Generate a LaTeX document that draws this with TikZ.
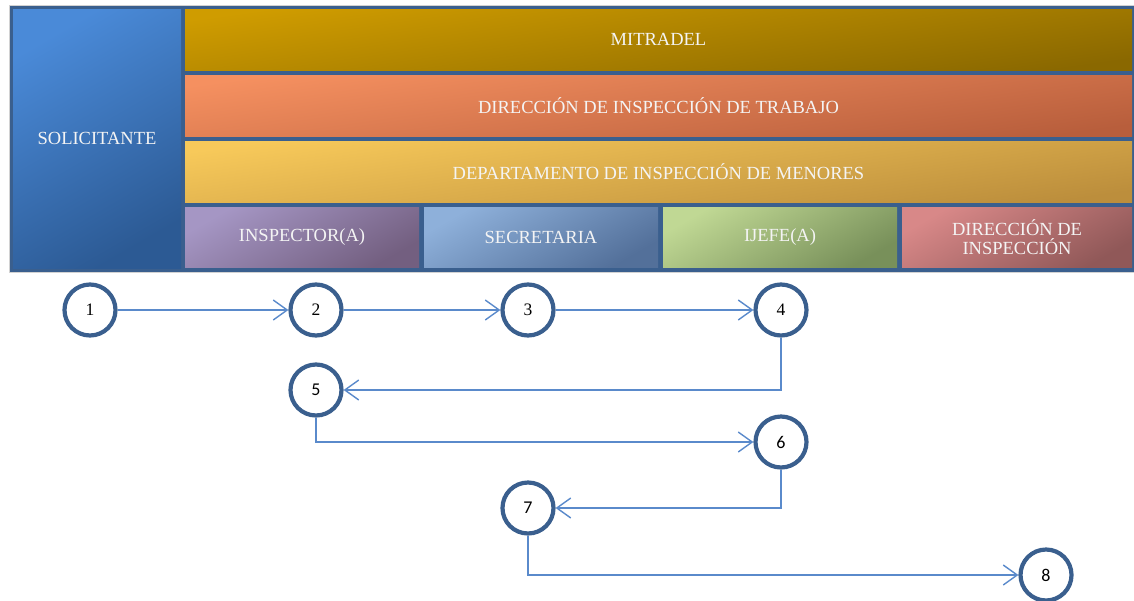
\documentclass[tikz,border=0pt]{standalone}
\usepackage{fontspec}
\setmainfont{Liberation Serif}
\newfontfamily\calibri{Carlito}
\usetikzlibrary{arrows.meta}

\begin{document}
\begin{tikzpicture}[x=1pt,y=-1pt,
  lane/.style n args={4}{top color=#1,bottom color=#2,shading angle=#3,
    draw=none,text=kText,inner sep=0pt,align=center,
    font=\fontsize{18.5}{19}\selectfont,minimum height=#4},
  paso/.style={circle,draw=kFrame,line width=4.2pt,fill=white,
    minimum size=51pt,inner sep=0pt,font=\fontsize{17.5}{17}\selectfont},
  flujo/.style={draw=kLine,line width=1.4pt,-{Straight Barb[length=14pt,width=20pt,line width=1.4pt]}}]
  \definecolor{kFrame}{HTML}{3A5F8E}
  \definecolor{kLine}{HTML}{5A8ACB}
  \definecolor{kText}{HTML}{F4F4F4}
  \definecolor{kSolA}{HTML}{4A8AD8} \definecolor{kSolB}{HTML}{2C5A94}
  \definecolor{kMitA}{HTML}{CF9C00} \definecolor{kMitB}{HTML}{8A6800}
  \definecolor{kDitA}{HTML}{F59060} \definecolor{kDitB}{HTML}{B85E3C}
  \definecolor{kDimA}{HTML}{F7C95A} \definecolor{kDimB}{HTML}{BC8E3C}
  \definecolor{kInsA}{HTML}{A596C4} \definecolor{kInsB}{HTML}{735F80}
  \definecolor{kSecA}{HTML}{8EB0DA} \definecolor{kSecB}{HTML}{53709A}
  \definecolor{kJefA}{HTML}{C0D894} \definecolor{kJefB}{HTML}{78905A}
  \definecolor{kDirA}{HTML}{D88888} \definecolor{kDirB}{HTML}{905858}

  \useasboundingbox (0,0) rectangle (1134,600);

  % marco
  \filldraw[fill=kFrame,draw=gray!35,line width=0.8pt] (9,5) rectangle (1138,272);

  \node[lane={kSolA}{kSolB}{30}{259pt},minimum width=168pt] (solicitante) at (97,138.5) {SOLICITANTE};
  \node[lane={kMitA}{kMitB}{8}{61pt},minimum width=947pt] (mitradel) at (658.5,39.5) {MITRADEL};
  \node[lane={kDitA}{kDitB}{8}{61pt},minimum width=947pt] (dit) at (658.5,105.5) {DIRECCIÓN DE INSPECCIÓN DE TRABAJO};
  \node[lane={kDimA}{kDimB}{8}{61pt},minimum width=947pt] (dim) at (658.5,171.5) {DEPARTAMENTO DE INSPECCIÓN DE MENORES};

  \node[lane={kInsA}{kInsB}{30}{60pt},minimum width=234pt] (inspector) at (302,237) {INSPECTOR(A)};
  \node[lane={kSecA}{kSecB}{30}{60pt},minimum width=234pt] (secretaria) at (541,237) {SECRETARIA};
  \node[lane={kJefA}{kJefB}{30}{60pt},minimum width=234pt] (jefe) at (780,237) {IJEFE(A)};
  \node[lane={kDirA}{kDirB}{30}{60pt},minimum width=230pt] (direccion) at (1017,237) {DIRECCIÓN DE\\INSPECCIÓN};

  % pasos
  \node[paso] (p1) at (90,310) {1};
  \node[paso] (p2) at (316,310) {2};
  \node[paso] (p3) at (528,310) {3};
  \node[paso] (p4) at (781,310) {4};
  \node[paso,font=\calibri\fontsize{18}{18}\selectfont] (p5) at (316,390) {5};
  \node[paso,font=\calibri\fontsize{18}{18}\selectfont] (p6) at (781,442) {6};
  \node[paso,font=\calibri\fontsize{18}{18}\selectfont] (p7) at (528,508) {7};
  \node[paso,font=\calibri\fontsize{18}{18}\selectfont] (p8) at (1046,575) {8};

  \draw[flujo] (p1) -- (p2);
  \draw[flujo] (p2) -- (p3);
  \draw[flujo] (p3) -- (p4);
  \draw[flujo] (p4.south) |- (p5.east);
  \draw[flujo] (p5.south) |- (p6.west);
  \draw[flujo] (p6.south) |- (p7.east);
  \draw[flujo] (p7.south) |- (p8.west);

\end{tikzpicture}
\end{document}
